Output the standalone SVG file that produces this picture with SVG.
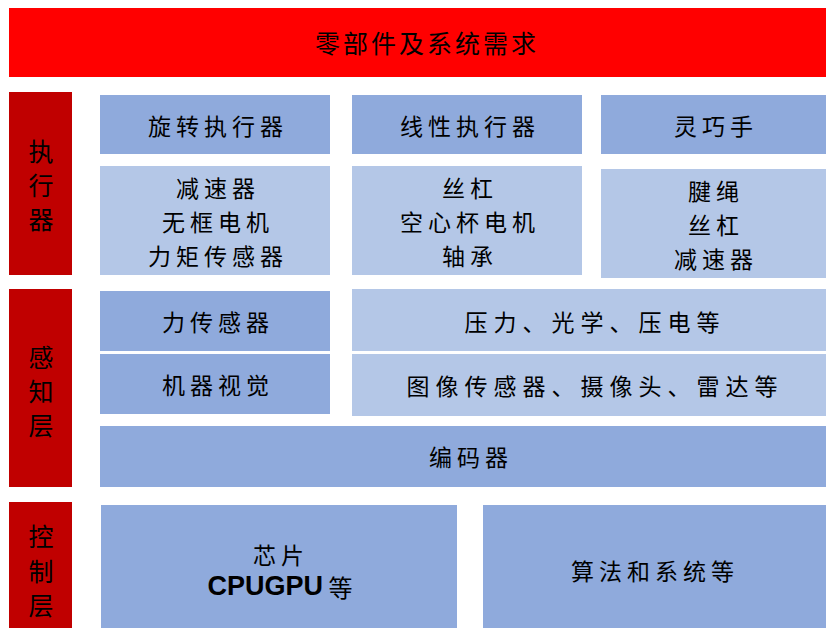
<svg xmlns="http://www.w3.org/2000/svg" width="826" height="628" viewBox="0 0 826 628">
<style>
text{font-family:"Noto Sans CJK SC","Noto Sans",sans-serif;fill:#000;text-anchor:middle;dominant-baseline:central}
.t{font-size:23px;letter-spacing:5px}
.w{letter-spacing:6px}
.side{font-size:25px}
.title{font-size:25px;letter-spacing:3px}
.dark{fill:#8FAADC}
.light{fill:#B4C7E7}
.red{fill:#C00000}
.en{font-family:"Liberation Sans",Arial,sans-serif;font-weight:bold;font-size:27px}
</style>
<rect width="826" height="628" fill="#fff"/>
<g id="title">
<rect x="9" y="8" width="817" height="69" fill="#FF0000"/>
<text class="title" x="427" y="42">零部件及系统需求</text>
</g>
<g id="side-actuator">
<rect class="red" x="9" y="92" width="63" height="183"/>
<text class="side" x="41" y="150">执</text>
<text class="side" x="41" y="184">行</text>
<text class="side" x="41" y="218">器</text>
</g>
<g id="side-perception">
<rect class="red" x="9" y="289" width="63" height="198"/>
<text class="side" x="41" y="356">感</text>
<text class="side" x="41" y="390">知</text>
<text class="side" x="41" y="424">层</text>
</g>
<g id="side-control">
<rect class="red" x="9" y="502" width="63" height="126"/>
<text class="side" x="41" y="535">控</text>
<text class="side" x="41" y="570">制</text>
<text class="side" x="41" y="604">层</text>
</g>
<g id="rotary">
<rect class="dark" x="100" y="95" width="230" height="59"/>
<text class="t" x="218" y="125">旋转执行器</text>
</g>
<g id="rotary-parts">
<rect class="light" x="100" y="166" width="230" height="109"/>
<text class="t" x="218" y="187">减速器</text>
<text class="t" x="218" y="221">无框电机</text>
<text class="t" x="218" y="255">力矩传感器</text>
</g>
<g id="linear">
<rect class="dark" x="352" y="95" width="230" height="59"/>
<text class="t" x="470" y="125">线性执行器</text>
</g>
<g id="linear-parts">
<rect class="light" x="352" y="166" width="230" height="109"/>
<text class="t" x="470" y="187">丝杠</text>
<text class="t" x="470" y="221">空心杯电机</text>
<text class="t" x="470" y="255">轴承</text>
</g>
<g id="hand">
<rect class="dark" x="601" y="95" width="225" height="59"/>
<text class="t" x="716" y="125">灵巧手</text>
</g>
<g id="hand-parts">
<rect class="light" x="601" y="169" width="225" height="109"/>
<text class="t" x="716" y="190">腱绳</text>
<text class="t" x="716" y="224">丝杠</text>
<text class="t" x="716" y="258">减速器</text>
</g>
<g id="force-sensor">
<rect class="dark" x="100" y="291" width="230" height="60"/>
<text class="t" x="218" y="321">力传感器</text>
</g>
<g id="force-types">
<rect class="light" x="352" y="289" width="474" height="62"/>
<text class="t w" x="595" y="321">压力、光学、压电等</text>
</g>
<g id="vision">
<rect class="dark" x="100" y="354" width="230" height="60"/>
<text class="t" x="218" y="384">机器视觉</text>
</g>
<g id="vision-types">
<rect class="light" x="352" y="354" width="474" height="62"/>
<text class="t w" x="595" y="385">图像传感器、摄像头、雷达等</text>
</g>
<g id="encoder">
<rect class="dark" x="100" y="426" width="726" height="61"/>
<text class="t" x="471" y="456">编码器</text>
</g>
<g id="chip">
<rect class="dark" x="101" y="505" width="356" height="123"/>
<text class="t" x="281" y="554">芯片</text>
<text x="280" y="586" style="font-size:24px"><tspan class="en">CPUGPU</tspan> 等</text>
</g>
<g id="algorithm">
<rect class="dark" x="483" y="505" width="343" height="123"/>
<text class="t" x="655" y="570">算法和系统等</text>
</g>
</svg>
